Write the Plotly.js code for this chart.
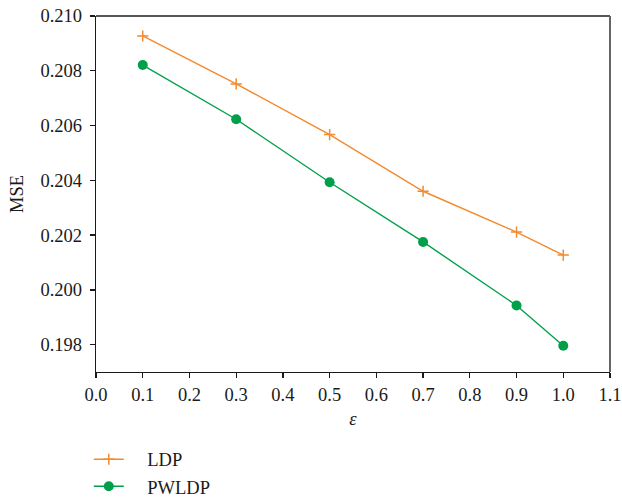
<!DOCTYPE html>
<html>
<head>
<meta charset="utf-8">
<script src="https://cdn.plot.ly/plotly-3.0.1.min.js"></script>
<style>html,body{margin:0;padding:0;background:#fff;}#chart{width:622px;height:503px;}</style>
</head>
<body>
<div id="chart"></div>
<script>
const epsilon = [0.1, 0.3, 0.5, 0.7, 0.9, 1.0];
const ldp = [0.20927, 0.20752, 0.20567, 0.20360, 0.20211, 0.20127];
const pwldp = [0.20821, 0.20623, 0.20393, 0.20175, 0.19943, 0.19796];
const xTicks = [0.0, 0.1, 0.2, 0.3, 0.4, 0.5, 0.6, 0.7, 0.8, 0.9, 1.0, 1.1];
const yTicks = [0.198, 0.200, 0.202, 0.204, 0.206, 0.208, 0.210];
const seriesNames = ['LDP', 'PWLDP'];

const font = {family: '"Liberation Serif", "DejaVu Serif", serif', size: 18.5, color: '#1a1a1a'};
const pad = '\u00a0\u00a0\u00a0\u00a0';

const traces = [
  {x: epsilon, y: ldp, name: pad + seriesNames[0], mode: 'lines+markers', type: 'scatter',
   line: {color: '#f28a2e', width: 1.4},
   marker: {symbol: 'cross-thin-open', size: 8, line: {color: '#f28a2e', width: 1.5}}},
  {x: epsilon, y: pwldp, name: pad + seriesNames[1], mode: 'lines+markers', type: 'scatter',
   line: {color: '#00a04a', width: 1.4},
   marker: {symbol: 'circle', size: 10, color: '#00a04a'}}
];

const layout = {
  width: 622, height: 503,
  margin: {l: 96, r: 12, t: 16, b: 131, autoexpand: false},
  paper_bgcolor: '#fff', plot_bgcolor: '#fff',
  font: font,
  showlegend: true,
  legend: {x: -0.014, y: -0.193, xanchor: 'left', yanchor: 'top', font: font,
           bgcolor: 'rgba(0,0,0,0)', tracegroupgap: 0},
  xaxis: {range: [0, 1.1], tickvals: xTicks, ticktext: xTicks.map(v => v.toFixed(1)),
          showgrid: false, zeroline: false, showline: true, linecolor: '#1a1a1a', linewidth: 1.3,
          ticks: 'outside', ticklen: 5, tickcolor: '#1a1a1a', tickwidth: 1.3,
          title: {text: '<i>ε</i>', font: font, standoff: 8}},
  yaxis: {range: [0.197, 0.210], tickvals: yTicks, ticktext: yTicks.map(v => v.toFixed(3)),
          showgrid: false, zeroline: false, showline: true, linecolor: '#1a1a1a', linewidth: 1.3,
          ticks: 'outside', ticklen: 5, tickcolor: '#1a1a1a', tickwidth: 1.3,
          ticklabelstandoff: 4,
          title: {text: 'MSE', font: font, standoff: 12}},
  shapes: [
    {type: 'line', xref: 'paper', yref: 'paper', x0: 0, x1: 1, y0: 1, y1: 1,
     line: {color: '#555', width: 1.8}},
    {type: 'line', xref: 'paper', yref: 'paper', x0: 1, x1: 1, y0: 0, y1: 1,
     line: {color: '#666', width: 2}}
  ]
};

Plotly.newPlot('chart', traces, layout, {displayModeBar: false, staticPlot: true});
</script>
</body>
</html>
